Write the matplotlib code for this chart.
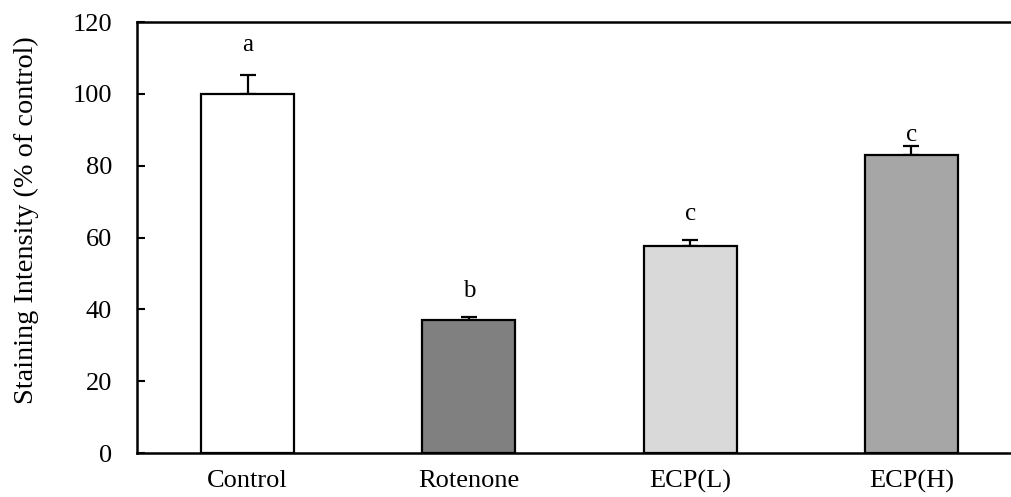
import numpy as np
import matplotlib
matplotlib.use('Agg')
import matplotlib.pyplot as plt

groups = ['Control', 'Rotenone', 'ECP(L)', 'ECP(H)']
means = [100.0, 37.0, 57.5, 83.0]
errs = [5.3, 0.8, 1.8, 2.5]
letters = ['a', 'b', 'c', 'c']
letter_y = [113.5, 45.0, 66.5, 88.5]
colors = ['#ffffff', '#808080', '#d9d9d9', '#a6a6a6']

plt.rcParams['font.family'] = ['Liberation Serif', 'DejaVu Serif']

fig = plt.figure(figsize=(10.11, 4.97), dpi=100)
ax = fig.add_axes([0.1355, 0.0885, 0.8645, 0.8672])

x = np.arange(len(groups))
ax.bar(x, means, width=0.42, color=colors, edgecolor='black', linewidth=1.6, zorder=2)
ax.errorbar(x, means, yerr=[np.zeros(len(errs)), errs], fmt='none', ecolor='black',
            elinewidth=1.6, capsize=6, capthick=1.6, zorder=1)
for xi, lt, ly in zip(x, letters, letter_y):
    ax.text(xi, ly, lt, ha='center', va='center', fontsize=18)

ax.set_xlim(-0.5, 3.45)
ax.set_ylim(0, 120)
ax.set_yticks(np.arange(0, 121, 20))
ax.set_xticks(x)
ax.set_xticklabels(groups)
ax.tick_params(axis='y', direction='in', length=6, width=1.5, labelsize=19, pad=18)
ax.tick_params(axis='x', length=0, labelsize=19, pad=12)
ax.set_ylabel('Staining Intensity (% of control)', fontsize=20.3, va='center')
ax.yaxis.set_label_coords(-0.126, 0.54)
for s in ['left', 'bottom', 'top']:
    ax.spines[s].set_linewidth(1.8)
ax.spines['right'].set_visible(False)

plt.savefig('out.png', dpi=100)
